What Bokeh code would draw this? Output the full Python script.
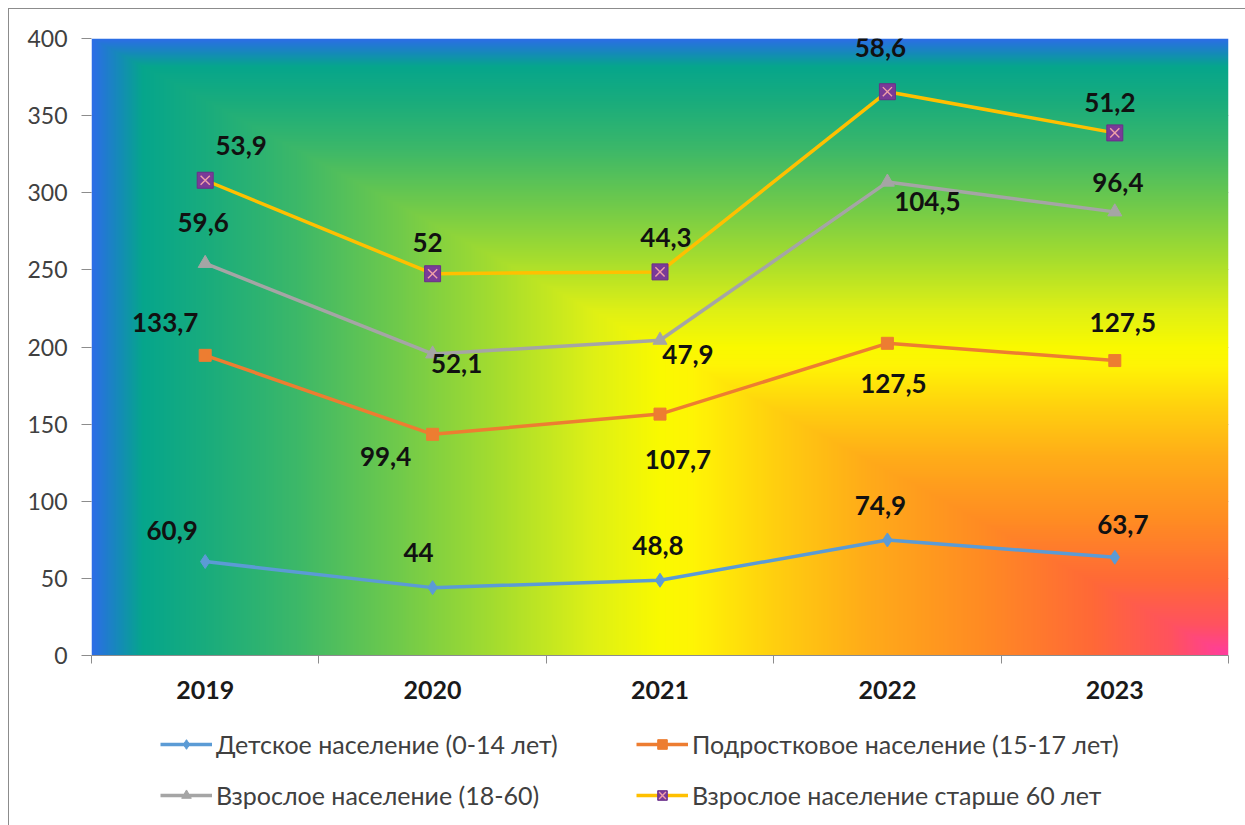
import numpy as np
from bokeh.plotting import figure
from bokeh.layouts import column
from bokeh.models import ColumnDataSource, FixedTicker, Range1d, Legend, LegendItem
from bokeh.core.properties import value
from bokeh.embed import file_html
from bokeh.resources import INLINE

# ---------------- data ----------------
years = ["2019", "2020", "2021", "2022", "2023"]
series_names = [
    "Детское население (0-14 лет)",
    "Подростковое население (15-17 лет)",
    "Взрослое население (18-60)",
    "Взрослое население старше 60 лет",
]
children = [60.9, 44, 48.8, 74.9, 63.7]
teens = [133.7, 99.4, 107.7, 127.5, 127.5]
adults = [59.6, 52.1, 47.9, 104.5, 96.4]
seniors = [53.9, 52, 44.3, 58.6, 51.2]
y_ticks = [0, 50, 100, 150, 200, 250, 300, 350, 400]

# ---------------- styling ----------------
FONT = "Lato"
colors = ["#5b9bd5", "#ed7d31", "#a5a5a5", "#ffc000"]
marker_kinds = ["diamond", "square", "triangle", "square"]
marker_sizes = [14, 12, 14, 16]
# label offsets in screen pixels (dx, dy; +dy is down)
label_dx = [[-33, -14, -2, -7, 8], [-40, -47, 18, 6, 8], [-2, 24, 28, 40, 3], [36, -5, 6, -7, -5]]
label_dy = [[-31, -35, -35, -34, -33], [-33, 22, 45, 40, -38], [-41, 10, 14, 19, -29], [-35, -31, -34, -44, -30]]

n = len(years)
xs = [i + 0.5 for i in range(n)]
values = [children, teens, adults, seniors]
stacked = np.cumsum(np.array(values, dtype=float), axis=0)

p = figure(width=1236, height=706, output_backend="svg", toolbar_location=None,
           x_range=Range1d(0, n), y_range=Range1d(0, 400),
           min_border_left=82, min_border_right=17, min_border_top=29, min_border_bottom=60)
p.outline_line_color = None
p.background_fill_color = "white"
p.border_fill_color = "white"

# background gradient (rectangular, from bottom-right corner)
rows, cols = 310, 570
yy = (np.arange(rows) + 0.5) / rows
xx = (np.arange(cols) + 0.5) / cols
T = np.maximum((1 - xx)[None, :], yy[:, None])
stops = [
    (0.00, (255, 60, 160)), (0.05, (255, 82, 95)), (0.12, (255, 105, 55)),
    (0.22, (255, 140, 35)), (0.32, (255, 172, 25)), (0.40, (255, 208, 15)),
    (0.47, (255, 245, 5)), (0.50, (250, 250, 0)), (0.56, (222, 240, 22)),
    (0.64, (168, 222, 45)), (0.73, (112, 202, 75)), (0.82, (60, 184, 105)),
    (0.90, (25, 172, 125)), (0.955, (6, 166, 140)), (0.975, (20, 140, 182)),
    (1.00, (45, 108, 232)),
]
st = np.array([s[0] for s in stops])
img = np.zeros((rows, cols), dtype=np.uint32)
view = img.view(dtype=np.uint8).reshape((rows, cols, 4))
for c in range(3):
    view[:, :, c] = np.interp(T, st, [s[1][c] for s in stops]).astype(np.uint8)
view[:, :, 3] = 255
p.image_rgba(image=[img], x=0, y=0, dw=n, dh=400)

# axes
p.xaxis.ticker = FixedTicker(ticks=xs, minor_ticks=list(range(n + 1)))
p.xaxis.major_label_overrides = {x: y for x, y in zip(xs, years)}
p.xaxis.major_tick_out = 0
p.xaxis.major_tick_in = 0
p.xaxis.minor_tick_out = 8
p.xaxis.minor_tick_in = 0
p.xaxis.minor_tick_line_color = "#8c8c8c"
p.xaxis.axis_line_color = "#8c8c8c"
p.xaxis.major_label_text_font = FONT
p.xaxis.major_label_text_font_style = "bold"
p.xaxis.major_label_text_font_size = "25px"
p.xaxis.major_label_text_color = "#1a1a1a"
p.xaxis.major_label_standoff = 17

p.yaxis.ticker = FixedTicker(ticks=y_ticks)
p.yaxis.minor_tick_line_color = None
p.yaxis.major_tick_out = 10
p.yaxis.major_tick_in = 0
p.yaxis.major_tick_line_color = "#8c8c8c"
p.yaxis.axis_line_color = None
p.yaxis.major_label_text_font = FONT
p.yaxis.major_label_text_font_size = "23px"
p.yaxis.major_label_text_color = "#404040"
p.yaxis.major_label_standoff = 14

p.xgrid.grid_line_color = None
p.ygrid.ticker = FixedTicker(ticks=y_ticks)
p.ygrid.grid_line_color = "#8c8c8c"
p.ygrid.grid_line_width = 1


def add_series(fig, k, src):
    lr = fig.line("x", "y", source=src, line_color=colors[k], line_width=3.5)
    rends = [lr]
    if k == 3:
        m1 = fig.scatter("x", "y", source=src, marker="square", size=marker_sizes[k],
                         fill_color="#7a3a98", line_color="#6a2f8a", line_width=1)
        m2 = fig.scatter("x", "y", source=src, marker="x", size=marker_sizes[k] - 3,
                         line_color="#f0a0a8", line_width=1.4)
        rends += [m1, m2]
    else:
        m = fig.scatter("x", "y", source=src, marker=marker_kinds[k], size=marker_sizes[k],
                        fill_color=colors[k], line_color=colors[k])
        rends.append(m)
    return rends


# legend figure (its renderers sit outside the visible range; only the legend shows)
leg = figure(width=1236, height=110, output_backend="svg", toolbar_location=None,
             x_range=Range1d(0, 1), y_range=Range1d(0, 1),
             min_border_left=0, min_border_right=0, min_border_top=0, min_border_bottom=0)
leg.axis.visible = False
leg.grid.grid_line_color = None
leg.outline_line_color = None
leg.background_fill_color = "white"
leg.border_fill_color = "white"

legend_items = []
for k in range(4):
    src = ColumnDataSource(dict(
        x=xs, y=list(stacked[k]),
        label=[f"{v:g}".replace(".", ",") for v in values[k]],
        dx=label_dx[k], dy=label_dy[k],
    ))
    add_series(p, k, src)
    p.text("x", "y", text="label", source=src, x_offset="dx", y_offset="dy",
           text_font=value(FONT), text_font_style="bold", text_font_size="26px",
           text_color="#111111", text_align="center", text_baseline="middle")
    hidden = ColumnDataSource(dict(x=[-10, -9], y=[-10, -10]))
    rends = add_series(leg, k, hidden)
    legend_items.append(LegendItem(label=series_names[k], renderers=rends))

# column-major fill -> order so rows read: [0, 1] / [2, 3]
ordered = [legend_items[0], legend_items[2], legend_items[1], legend_items[3]]
legend = Legend(items=ordered, ncols=2, location=(69, 15),
                label_text_font=FONT, label_text_font_size="25px", label_text_color="#404040",
                glyph_width=52, glyph_height=24, label_height=24, label_width=399,
                label_standoff=4, spacing=21,
                border_line_color=None, background_fill_alpha=0, padding=0, margin=0)
leg.add_layout(legend, "center")

layout = column(p, leg, spacing=0,
                styles={"margin-left": "8px", "margin-top": "8px",
                        "border-left": "1px solid #8c8c8c", "border-top": "1px solid #8c8c8c"})

open("out.html", "w").write(file_html(layout, INLINE))
